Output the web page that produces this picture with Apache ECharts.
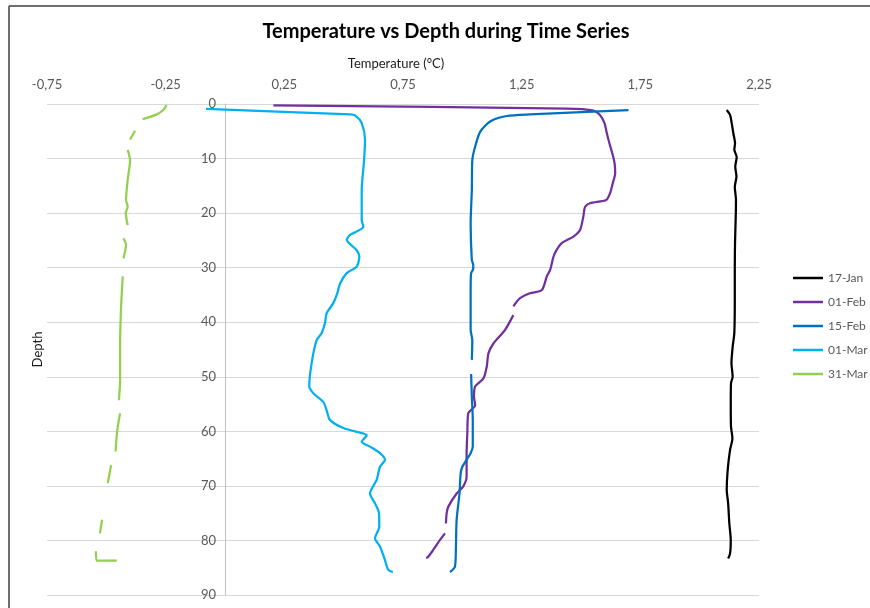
<!DOCTYPE html>
<html>
<head>
<meta charset="utf-8">
<script src="https://cdn.jsdelivr.net/npm/echarts@6/dist/echarts.min.js"></script>
<style>
  html, body { margin: 0; padding: 0; background: #ffffff; }
  #chart { width: 870px; height: 608px; }
</style>
</head>
<body>
<div id="chart"></div>
<script>
// Temperature profiles (°C) against depth for each survey date.
// null marks a missing reading (the line is broken there).
const seriesNames = ['17-Jan', '01-Feb', '15-Feb', '01-Mar', '31-Mar'];
const tempTicks = [-0.75, -0.25, 0.25, 0.75, 1.25, 1.75, 2.25];

const depthJan = [1.1, 2.0, 3.5, 5.4, 7.2, 8.4, 9.7, 11.5, 13.3, 15.2, 17.6, 20.6, 25.5, 29.8, 35.9, 42.0, 44.5, 47.5, 50.0, 51.2, 54.9, 59.1, 61.3, 63.4, 67.1, 70.7, 73.2, 76.9, 79.9, 82.4, 83.3];
const tempJan  = [2.114, 2.128, 2.135, 2.142, 2.149, 2.146, 2.156, 2.150, 2.155, 2.148, 2.153, 2.152, 2.149, 2.148, 2.148, 2.146, 2.139, 2.134, 2.139, 2.132, 2.131, 2.132, 2.138, 2.128, 2.118, 2.114, 2.120, 2.125, 2.131, 2.128, 2.120];

const depthFeb1 = [0.24, 0.86, 1.2, 2.0, 3.5, 5.0, 6.6, 8.0, 9.7, 11.0, 12.7, 14.5, 16.4, 17.6, 18.2, 18.9, 20.6, 23.1, 24.3, 25.5, 26.7, 28.0, 30.4, 31.6, 34.1, 34.7, 35.6, 37.1, null, 38.7, 41.4, 43.9, 45.7, 48.1, 50.3, 51.8, 53.6, 55.2, 56.7, 60.4, 64.0, 68.3, 70.1, 71.4, 73.8, 75.0, 76.9, null, 78.7, 79.9, 81.7, 83.1, 83.2];
const tempFeb1  = [0.204, 1.44, 1.552, 1.580, 1.599, 1.607, 1.616, 1.625, 1.636, 1.642, 1.644, 1.634, 1.622, 1.606, 1.538, 1.517, 1.510, 1.496, 1.468, 1.419, 1.398, 1.384, 1.370, 1.356, 1.335, 1.285, 1.243, 1.215, null, 1.215, 1.180, 1.131, 1.110, 1.103, 1.089, 1.054, 1.049, 1.054, 1.025, 1.021, 1.018, 1.018, 1.004, 0.976, 0.941, 0.934, 0.931, null, 0.927, 0.906, 0.878, 0.854, 0.847];

const depthFeb15 = [1.1, 1.9, 2.2, 3.2, 5.1, 7.8, 10.3, 15.8, 21.9, 28.6, 29.5, 30.2, 31.0, 34.0, 41.4, 43.3, 46.9, null, 49.5, 53.6, 57.9, 62.8, 64.0, 65.2, 66.5, 67.7, 71.4, 76.2, 81.1, 84.8, 85.8];
const tempFeb15  = [1.70, 1.285, 1.187, 1.117, 1.075, 1.054, 1.042, 1.040, 1.035, 1.040, 1.046, 1.046, 1.037, 1.035, 1.035, 1.042, 1.040, null, 1.037, 1.040, 1.044, 1.044, 1.035, 1.018, 1.000, 0.993, 0.988, 0.976, 0.973, 0.969, 0.948];

const depthMar1 = [0.9, 1.9, 2.1, 3.5, 6.6, 10.3, 15.8, 21.3, 22.5, 24.0, 24.9, 26.8, 28.0, 29.8, 31.0, 32.9, 34.7, 36.5, 38.4, 40.2, 42.0, 43.3, 47.5, 51.8, 53.0, 54.6, 56.1, 57.9, 59.4, 60.4, 60.7, 61.9, 62.8, 64.0, 65.2, 66.5, 68.9, 71.4, 73.2, 75.0, 77.5, 79.6, 81.1, 83.6, 85.4, 85.8];
const tempMar1  = [-0.08, 0.527, 0.548, 0.576, 0.590, 0.586, 0.576, 0.576, 0.583, 0.527, 0.513, 0.555, 0.566, 0.555, 0.513, 0.485, 0.473, 0.456, 0.428, 0.421, 0.407, 0.386, 0.365, 0.355, 0.372, 0.414, 0.428, 0.442, 0.499, 0.583, 0.597, 0.576, 0.611, 0.653, 0.674, 0.653, 0.639, 0.611, 0.632, 0.649, 0.650, 0.632, 0.653, 0.674, 0.688, 0.707];

const depthMar31 = [0.2, 1.1, 1.9, 2.8, null, 4.9, 6.5, null, 8.4, 10.3, 13.9, 17.6, 18.8, 20.0, 22.2, null, 24.6, 25.8, 28.3, null, 31.6, 38.4, 44.5, 50.6, 54.3, null, 56.7, 59.8, 63.7, null, 66.2, 69.5, null, 76.2, 78.7, null, 82.0, 83.7, 83.7];
const tempMar31  = [-0.246, -0.260, -0.288, -0.347, null, -0.379, -0.400, null, -0.410, -0.400, -0.410, -0.417, -0.410, -0.418, -0.410, null, -0.428, -0.417, -0.428, null, -0.431, -0.439, -0.442, -0.442, -0.447, null, -0.442, -0.454, -0.461, null, -0.480, -0.494, null, -0.518, -0.527, null, -0.544, -0.541, -0.456];

const colors = ['#000000', '#7030A0', '#0070C0', '#00B0F0', '#92D050'];
const profiles = [
  [tempJan, depthJan],
  [tempFeb1, depthFeb1],
  [tempFeb15, depthFeb15],
  [tempMar1, depthMar1],
  [tempMar31, depthMar31]
];

// pair temperatures with depths; a gap becomes '-' so the line breaks
function pairUp(temps, depths) {
  return temps.map((t, i) => (t === null || depths[i] === null) ? ['-', '-'] : [t, depths[i]]);
}

const FONT = 'Lato, "Open Sans", sans-serif';

// plot area
const GRID = { left: 47, right: 111, top: 104, bottom: 13 };
const plotWidth = 870 - GRID.left - GRID.right;
const xMin = tempTicks[0];
const xMax = tempTicks[tempTicks.length - 1];
// the depth axis sits on 0 °C: shift it inwards from the left edge of the grid
const depthAxisShift = plotWidth * (0 - xMin) / (xMax - xMin);

const chart = echarts.init(document.getElementById('chart'), null, { renderer: 'canvas' });
chart.setOption({
  animation: false,
  backgroundColor: '#ffffff',
  textStyle: { fontFamily: FONT },
  title: {
    text: 'Temperature vs Depth during Time Series',
    left: 441,
    textAlign: 'center',
    top: 17,
    textStyle: { fontFamily: FONT, fontSize: 20, fontWeight: 'bold', color: '#000000' }
  },
  legend: {
    orient: 'vertical',
    left: 788,
    top: 266,
    icon: 'rect',
    itemWidth: 30,
    itemHeight: 2.5,
    itemGap: 10,
    textStyle: { fontFamily: FONT, fontSize: 12, lineHeight: 14, color: '#595959' },
    data: seriesNames
  },
  grid: Object.assign({ containLabel: false, outerBoundsMode: 'none' }, GRID),
  xAxis: {
    type: 'value',
    position: 'top',
    min: xMin,
    max: xMax,
    interval: 0.5,
    name: 'Temperature (°C)',
    nameLocation: 'middle',
    nameGap: 34,
    nameTextStyle: { fontFamily: FONT, fontSize: 13, color: '#1a1a1a', padding: [0, 14, 0, 0] },
    axisLine: { show: false },
    axisTick: { show: false },
    splitLine: { show: false },
    axisLabel: {
      margin: 13,
      fontFamily: FONT,
      fontSize: 13,
      color: '#595959',
      formatter: v => v.toFixed(2).replace('.', ',')
    }
  },
  yAxis: {
    type: 'value',
    position: 'left',
    offset: -depthAxisShift,
    inverse: true,
    min: 0,
    max: 90,
    interval: 10,
    name: 'Depth',
    nameLocation: 'middle',
    nameGap: 181,
    nameTextStyle: { fontFamily: FONT, fontSize: 13, color: '#1a1a1a' },
    axisLine: { show: true, onZero: false, lineStyle: { color: '#bfbfbf', width: 1 } },
    axisTick: { show: false },
    splitLine: { show: true, lineStyle: { color: '#d9d9d9', width: 1 } },
    axisLabel: { margin: 9, fontFamily: FONT, fontSize: 13, color: '#595959' }
  },
  graphic: [
    { type: 'line', shape: { x1: 9, y1: 6, x2: 870, y2: 6 }, style: { stroke: '#3f3f3f', lineWidth: 1.5 }, silent: true },
    { type: 'line', shape: { x1: 9, y1: 6, x2: 9, y2: 608 }, style: { stroke: '#3f3f3f', lineWidth: 1.5 }, silent: true }
  ],
  series: seriesNames.map((name, i) => ({
    name: name,
    type: 'line',
    data: pairUp(profiles[i][0], profiles[i][1]),
    symbol: 'none',
    showSymbol: false,
    smooth: 0.25,
    connectNulls: false,
    color: colors[i],
    lineStyle: { color: colors[i], width: 2.25 }
  }))
});
</script>
</body>
</html>
